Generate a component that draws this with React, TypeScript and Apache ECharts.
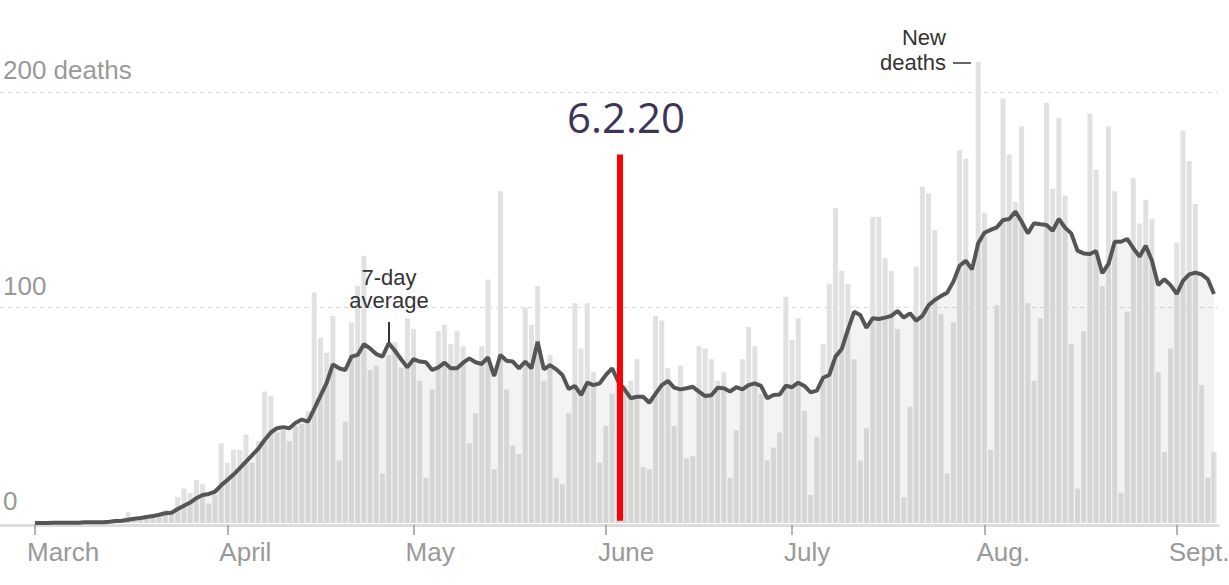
import React, { useEffect, useRef } from 'react';
import * as echarts from 'echarts';

const monthLabels = ['March', 'April', 'May', 'June', 'July', 'Aug.', 'Sept.'];
const monthStartDay = [0, 31, 61, 92, 122, 153, 184];
const yTickValues = [0, 100, 200];
const yTickLabels = ['0', '100', '200 deaths'];

// Daily new deaths, March 1 (index 0) to Sept. 7
const newDeaths = [
  0, 0, 0, 1, 0, 0, 0, 0, 1, 0, 1, 0, 1, 2, 1,
  5, 2, 3, 2, 4, 3, 6, 5,
  12, 16, 14, 20, 18, 9, 13,
  37, 28, 34, 34, 41, 28, 38, 61, 59, 42,
  43, 38, 45, 46, 52, 107, 86, 79, 96, 29,
  47, 93, 110, 124, 71, 73, 23, 78, 84, 72,
  95, 90, 66, 21, 62, 89, 92, 83, 89, 82,
  37, 51, 82, 113, 25, 154, 62, 36, 32, 100,
  92, 110, 66, 78, 21, 18, 51, 102, 81, 102,
  70, 28, 45, 60, 72, 64, 66, 76, 26, 25,
  96, 94, 72, 45, 73, 30, 31, 82, 81, 76,
  66, 70, 21, 43, 76, 91, 82, 60, 29, 35,
  42, 105, 85, 95, 52, 13, 40, 83, 111, 146,
  117, 111, 76, 29, 44, 142, 142, 123, 117, 90,
  12, 54, 119, 156, 153, 136, 97, 23, 93, 173,
  169, 118, 214, 144, 34, 101, 197, 171, 149, 184,
  102, 66, 95, 195, 155, 188, 152, 83, 16, 89,
  190, 164, 110, 184, 154, 14, 98, 160, 139, 150,
  141, 70, 33, 81, 130, 182, 168, 148, 64, 21, 33,
];

// 7-day average
const sevenDayAvg = [
  0, 0, 0, 0.1, 0.1, 0.1, 0.1, 0.1, 0.3, 0.3, 0.4, 0.4, 0.6, 0.9, 1,
  1.5, 2, 2.3, 2.8, 3.2, 3.8, 4.5, 4.8,
  6.5, 8, 9.5, 11.5, 13, 13.5, 14.5,
  17.5, 20, 22.5, 25.5, 28.5, 31.5, 34.5, 38.5, 42, 44,
  44.5, 44, 46.5, 48, 47, 53, 59, 65, 73.6, 71.8,
  71, 77.2, 78, 83, 81, 78.4, 77.2, 83.4, 80, 76,
  72.2, 76, 74.9, 74.6, 71, 72.2, 74.4, 71.8, 71.8, 74.4,
  76.4, 74.6, 73.8, 76.9, 68.2, 78, 75.3, 74.9, 71.8, 74.9,
  71.8, 84.1, 71.3, 73.3, 71.3, 68.7, 62.2, 63.6, 59.4, 65.1,
  64, 64.8, 68.7, 71.8, 65.6, 62, 57.9, 58.6, 58.6, 55.8,
  59.9, 64, 65.9, 62.8, 62, 62.5, 63.2, 61, 58.9, 59.3,
  62.8, 62.5, 61, 63, 62, 64, 64.8, 63.6, 57.9, 59.4,
  59.6, 63.7, 63, 65.1, 63.6, 60.6, 61.4, 67.4, 68.7, 77.2,
  80.7, 89.6, 98, 96.5, 90.6, 95, 94.7, 95.3, 96.1, 98.4,
  95.3, 97.3, 93.9, 96.1, 101, 103.5, 105.3, 106.9, 112, 119.4,
  121.7, 117.7, 129.8, 134.7, 136, 137.2, 140.6, 141.1, 144.5, 139.8,
  134.4, 139.1, 138.6, 138.3, 135.6, 141.1, 137, 134.4, 126.4, 125.1,
  124.8, 126.2, 115.9, 120.2, 130.5, 130.5, 131.8, 127.5, 123.6, 128.7,
  121.7, 110.4, 113.1, 110.4, 106.3, 112.4, 115.4, 116.2, 115.4, 113.1, 106.3,
];

const markerLabel = '6.2.20';
const markerDay = 94.3;
const markerRange = [1, 171];

const FONT = '"Liberation Sans", Arial, sans-serif';

export default function App() {
  const ref = useRef<HTMLDivElement>(null);

  useEffect(() => {
    if (!ref.current) return;
    const chart = echarts.init(ref.current, null, { renderer: 'svg' });

    const W = 1229;
    const gridLeft = 0;
    const gridRight = 11;
    const firstCenterPx = 35;
    const lastCenterPx = 1214;
    const n = newDeaths.length;
    const pxPerDay = (lastCenterPx - firstCenterPx) / (n - 1);
    const plotW = W - gridLeft - gridRight;
    const xMin = (gridLeft - firstCenterPx) / pxPerDay;
    const xMax = xMin + plotW / pxPerDay;
    const labelShift = -8 / pxPerDay;
    const labelValues = monthStartDay.map((d) => d + labelShift);

    chart.setOption({
      animation: false,
      grid: {
        left: gridLeft,
        right: gridRight,
        top: 92,
        bottom: 62,
        containLabel: false,
        outerBoundsMode: 'none',
      },
      xAxis: {
        type: 'value',
        min: xMin,
        max: xMax,
        offset: 2,
        axisLine: { show: true, onZero: false, lineStyle: { color: '#dcdcdc', width: 3 } },
        axisTick: {
          show: true,
          customValues: monthStartDay,
          length: 10,
          lineStyle: { color: '#999', width: 1.5 },
        },
        axisLabel: {
          customValues: labelValues,
          formatter: (v: number) => {
            const k = labelValues.findIndex((x) => Math.abs(x - v) < 1e-6);
            return k >= 0 ? monthLabels[k] : '';
          },
          align: 'left',
          margin: 14,
          color: '#999',
          fontSize: 26,
          fontFamily: FONT,
        },
        splitLine: { show: false },
      },
      yAxis: {
        type: 'value',
        min: 0,
        max: 200,
        interval: 100,
        axisLine: { show: false },
        axisTick: { show: false },
        splitLine: {
          show: true,
          showMinLine: false,
          lineStyle: { color: '#dedede', width: 1, type: [5, 3] },
        },
        axisLabel: {
          inside: true,
          margin: 3,
          align: 'left',
          verticalAlign: 'bottom',
          padding: [0, 0, 9, 0],
          formatter: (v: number) => {
            const k = yTickValues.indexOf(v);
            return k >= 0 ? yTickLabels[k] : '';
          },
          color: '#999',
          fontSize: 26,
          fontFamily: FONT,
        },
      },
      series: [
        {
          type: 'bar',
          data: newDeaths.map((v, i) => [i, v]),
          barWidth: 5,
          itemStyle: { color: '#e1e1e1' },
          clip: false,
          silent: true,
          z: 2,
        },
        {
          type: 'line',
          data: sevenDayAvg.map((v, i) => [i, v]),
          showSymbol: false,
          symbol: 'none',
          lineStyle: { color: '#555', width: 4 },
          areaStyle: { color: 'rgba(0,0,0,0.07)' },
          clip: false,
          silent: true,
          z: 3,
          markLine: {
            silent: true,
            symbol: ['none', 'none'],
            label: { show: false },
            lineStyle: { color: '#ff0000', width: 6, type: 'solid' },
            data: [[{ coord: [markerDay, markerRange[0]] }, { coord: [markerDay, markerRange[1]] }]],
          },
        },
      ],
      graphic: [
        {
          type: 'text',
          z: 100,
          x: 389,
          y: 277,
          style: { text: '7-day', fill: '#333', fontSize: 22, fontFamily: FONT, align: 'center', verticalAlign: 'middle' },
        },
        {
          type: 'text',
          z: 100,
          x: 389,
          y: 300,
          style: { text: 'average', fill: '#333', fontSize: 22, fontFamily: FONT, align: 'center', verticalAlign: 'middle' },
        },
        {
          type: 'line',
          z: 100,
          shape: { x1: 389, y1: 322, x2: 389, y2: 343 },
          style: { stroke: '#333', lineWidth: 2 },
        },
        {
          type: 'text',
          z: 100,
          x: 946,
          y: 37,
          style: { text: 'New', fill: '#333', fontSize: 22, fontFamily: FONT, align: 'right', verticalAlign: 'middle' },
        },
        {
          type: 'text',
          z: 100,
          x: 946,
          y: 62,
          style: { text: 'deaths', fill: '#333', fontSize: 22, fontFamily: FONT, align: 'right', verticalAlign: 'middle' },
        },
        {
          type: 'line',
          z: 100,
          shape: { x1: 953, y1: 63, x2: 971, y2: 63 },
          style: { stroke: '#333', lineWidth: 1.5 },
        },
        {
          type: 'text',
          z: 100,
          x: 626,
          y: 116,
          style: { text: markerLabel, fill: '#3d3557', fontSize: 42, fontFamily: '"Open Sans", "Noto Sans", sans-serif', align: 'center', verticalAlign: 'middle' },
        },
      ],
    });

    return () => chart.dispose();
  }, []);

  return (
    <div
      ref={ref}
      style={{ position: 'absolute', left: 0, top: 0, width: 1229, height: 585, background: '#fff' }}
    />
  );
}
